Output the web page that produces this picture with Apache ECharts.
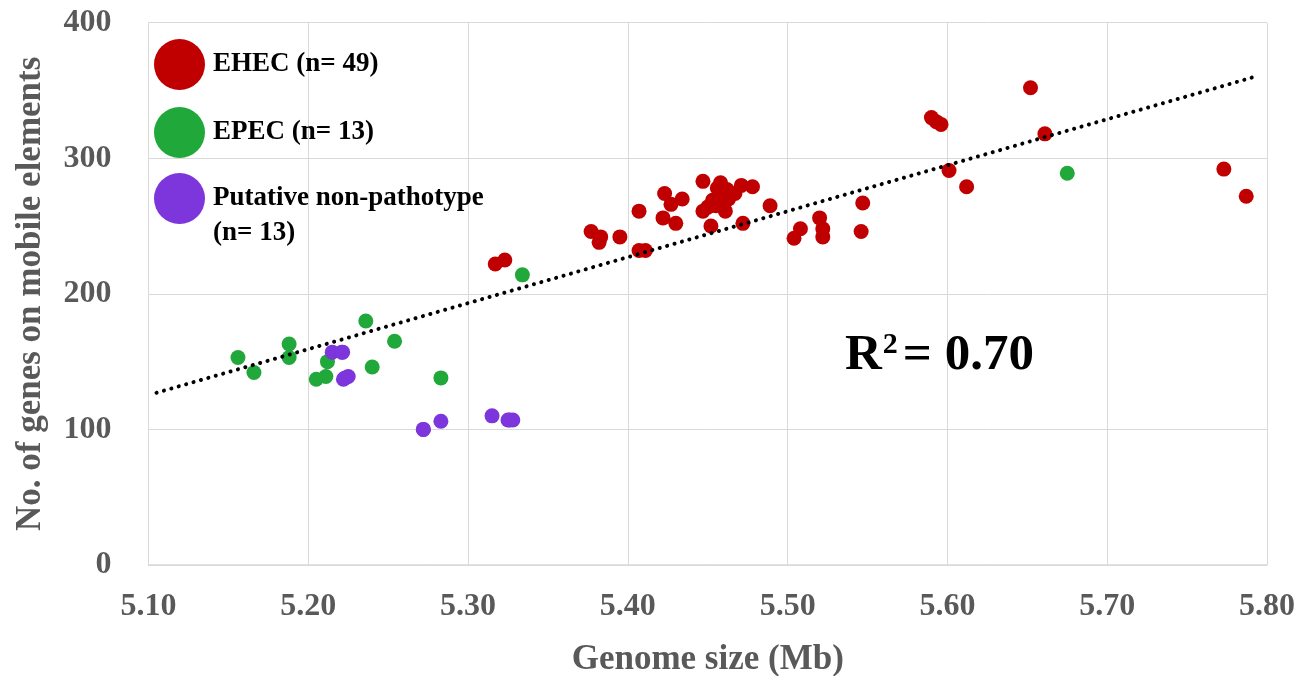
<!DOCTYPE html>
<html>
<head>
<meta charset="utf-8">
<script src="https://cdn.jsdelivr.net/npm/echarts@6/dist/echarts.min.js"></script>
<style>html,body{margin:0;padding:0;background:#fff}#c{width:1315px;height:676px}</style>
</head>
<body>
<div id="c"></div>
<script>
// ---- data ----
const seriesNames = ['EHEC (n= 49)', 'EPEC (n= 13)', 'Putative non-pathotype (n= 13)'];
const ehecX = [5.317,5.323,5.377,5.383,5.382,5.395,5.407,5.407,5.411,5.423,5.427,5.434,5.422,5.430,5.447,5.447,5.458,5.456,5.461,5.471,5.478,5.467,5.453,5.459,5.463,5.461,5.452,5.472,5.489,5.504,5.508,5.520,5.522,5.522,5.547,5.546,5.590,5.593,5.596,5.601,5.612,5.652,5.661,5.773,5.787,5.457,5.455,5.462,5.450];
const ehecY = [222,225,246,242,238,242,261,232,232,274,266,270,256,252,283,261,282,278,274,280,279,274,269,268,270,261,250,252,265,241,248,256,248,242,267,246,330,327,325,291,279,352,318,292,272,272,265,277,264];
const epecX = [5.156,5.166,5.188,5.188,5.212,5.205,5.211,5.236,5.240,5.254,5.283,5.334,5.675];
const epecY = [153,142,163,153,150,137,139,180,146,165,138,214,289];
const npX = [5.215,5.221,5.222,5.225,5.272,5.283,5.315,5.325,5.328,5.2215,5.223,5.326,5.272];
const npY = [157,157,137,139,100,106,110,107,107,157,138,107,100];
const trendX = [5.105, 5.795];
const trendY = [127, 361];
const xTicks = {min: 5.1, max: 5.8, interval: 0.1};
const yTicks = {min: 0, max: 400, interval: 100};
const r2Text = '0.70';

const colors = ['#C00000', '#21A83B', '#7D35DC'];
const zip = (a, b) => a.map((v, i) => [v, b[i]]);

const chart = echarts.init(document.getElementById('c'));
const serif = '"Liberation Serif", "DejaVu Serif", serif';
const legendText = {fontFamily: serif, fontWeight: 'bold', fontSize: 27, color: '#000', lineHeight: 35, padding: [0, 0, 0, 3]};
chart.setOption({
  animation: false,
  grid: {left: 148.5, right: 48, top: 22.7, bottom: 111, containLabel: false, outerBoundsMode: 'none'},
  xAxis: {
    type: 'value', min: xTicks.min, max: xTicks.max, interval: xTicks.interval,
    name: 'Genome size (Mb)', nameLocation: 'middle', nameGap: 77,
    nameTextStyle: {fontFamily: serif, fontWeight: 'bold', fontSize: 35, color: '#595959'},
    axisLine: {show: true, lineStyle: {color: '#d9d9d9', width: 1.5}},
    axisTick: {show: false},
    axisLabel: {margin: 26, fontFamily: serif, fontWeight: 'bold', fontSize: 32, color: '#595959',
      formatter: v => v.toFixed(2)},
    splitLine: {show: true, lineStyle: {color: '#d9d9d9', width: 1}}
  },
  yAxis: {
    type: 'value', min: yTicks.min, max: yTicks.max, interval: yTicks.interval,
    name: 'No. of genes on mobile elements', nameLocation: 'middle', nameGap: 100,
    nameTextStyle: {fontFamily: serif, fontWeight: 'bold', fontSize: 35, color: '#595959'},
    axisLine: {show: false},
    axisTick: {show: false},
    axisLabel: {margin: 37, fontFamily: serif, fontWeight: 'bold', fontSize: 32, color: '#595959'},
    splitLine: {show: true, lineStyle: {color: '#d9d9d9', width: 1}}
  },
  legend: [{
    left: 154, top: 39, padding: 0, orient: 'vertical', itemWidth: 51, itemHeight: 51, itemGap: 17,
    icon: 'circle', data: seriesNames.slice(0, 2),
    textStyle: legendText
  }, {
    left: 154, top: 143, padding: 0, orient: 'vertical', itemWidth: 51, itemHeight: 51,
    icon: 'circle', data: [seriesNames[2]],
    formatter: () => '\nPutative non-pathotype\n(n= 13)',
    textStyle: Object.assign({}, legendText, {padding: [6, 0, 0, 3]})
  }],
  series: [
    {name: seriesNames[0], type: 'scatter', symbolSize: 15, itemStyle: {color: colors[0], opacity: 1}, data: zip(ehecX, ehecY), z: 3},
    {name: seriesNames[1], type: 'scatter', symbolSize: 15, itemStyle: {color: colors[1], opacity: 1}, data: zip(epecX, epecY), z: 3},
    {name: seriesNames[2], type: 'scatter', symbolSize: 15, itemStyle: {color: colors[2], opacity: 1}, data: zip(npX, npY), z: 3},
    {name: 'trend', type: 'line', showSymbol: false, symbol: 'none', data: zip(trendX, trendY), z: 4,
      lineStyle: {color: '#000', width: 4, type: [0.1, 7.6], cap: 'round'}, silent: true}
  ],
  graphic: [{
    type: 'text', left: 845, top: 330, z: 10,
    style: {
      text: 'R{sup|2}= ' + r2Text,
      font: 'bold 51px ' + serif, fill: '#000',
      rich: {sup: {fontSize: 30, fontWeight: 'bold', fontFamily: serif, verticalAlign: 'top', padding: [0,5,18,1]}}
    }
  }]
});
</script>
</body>
</html>
